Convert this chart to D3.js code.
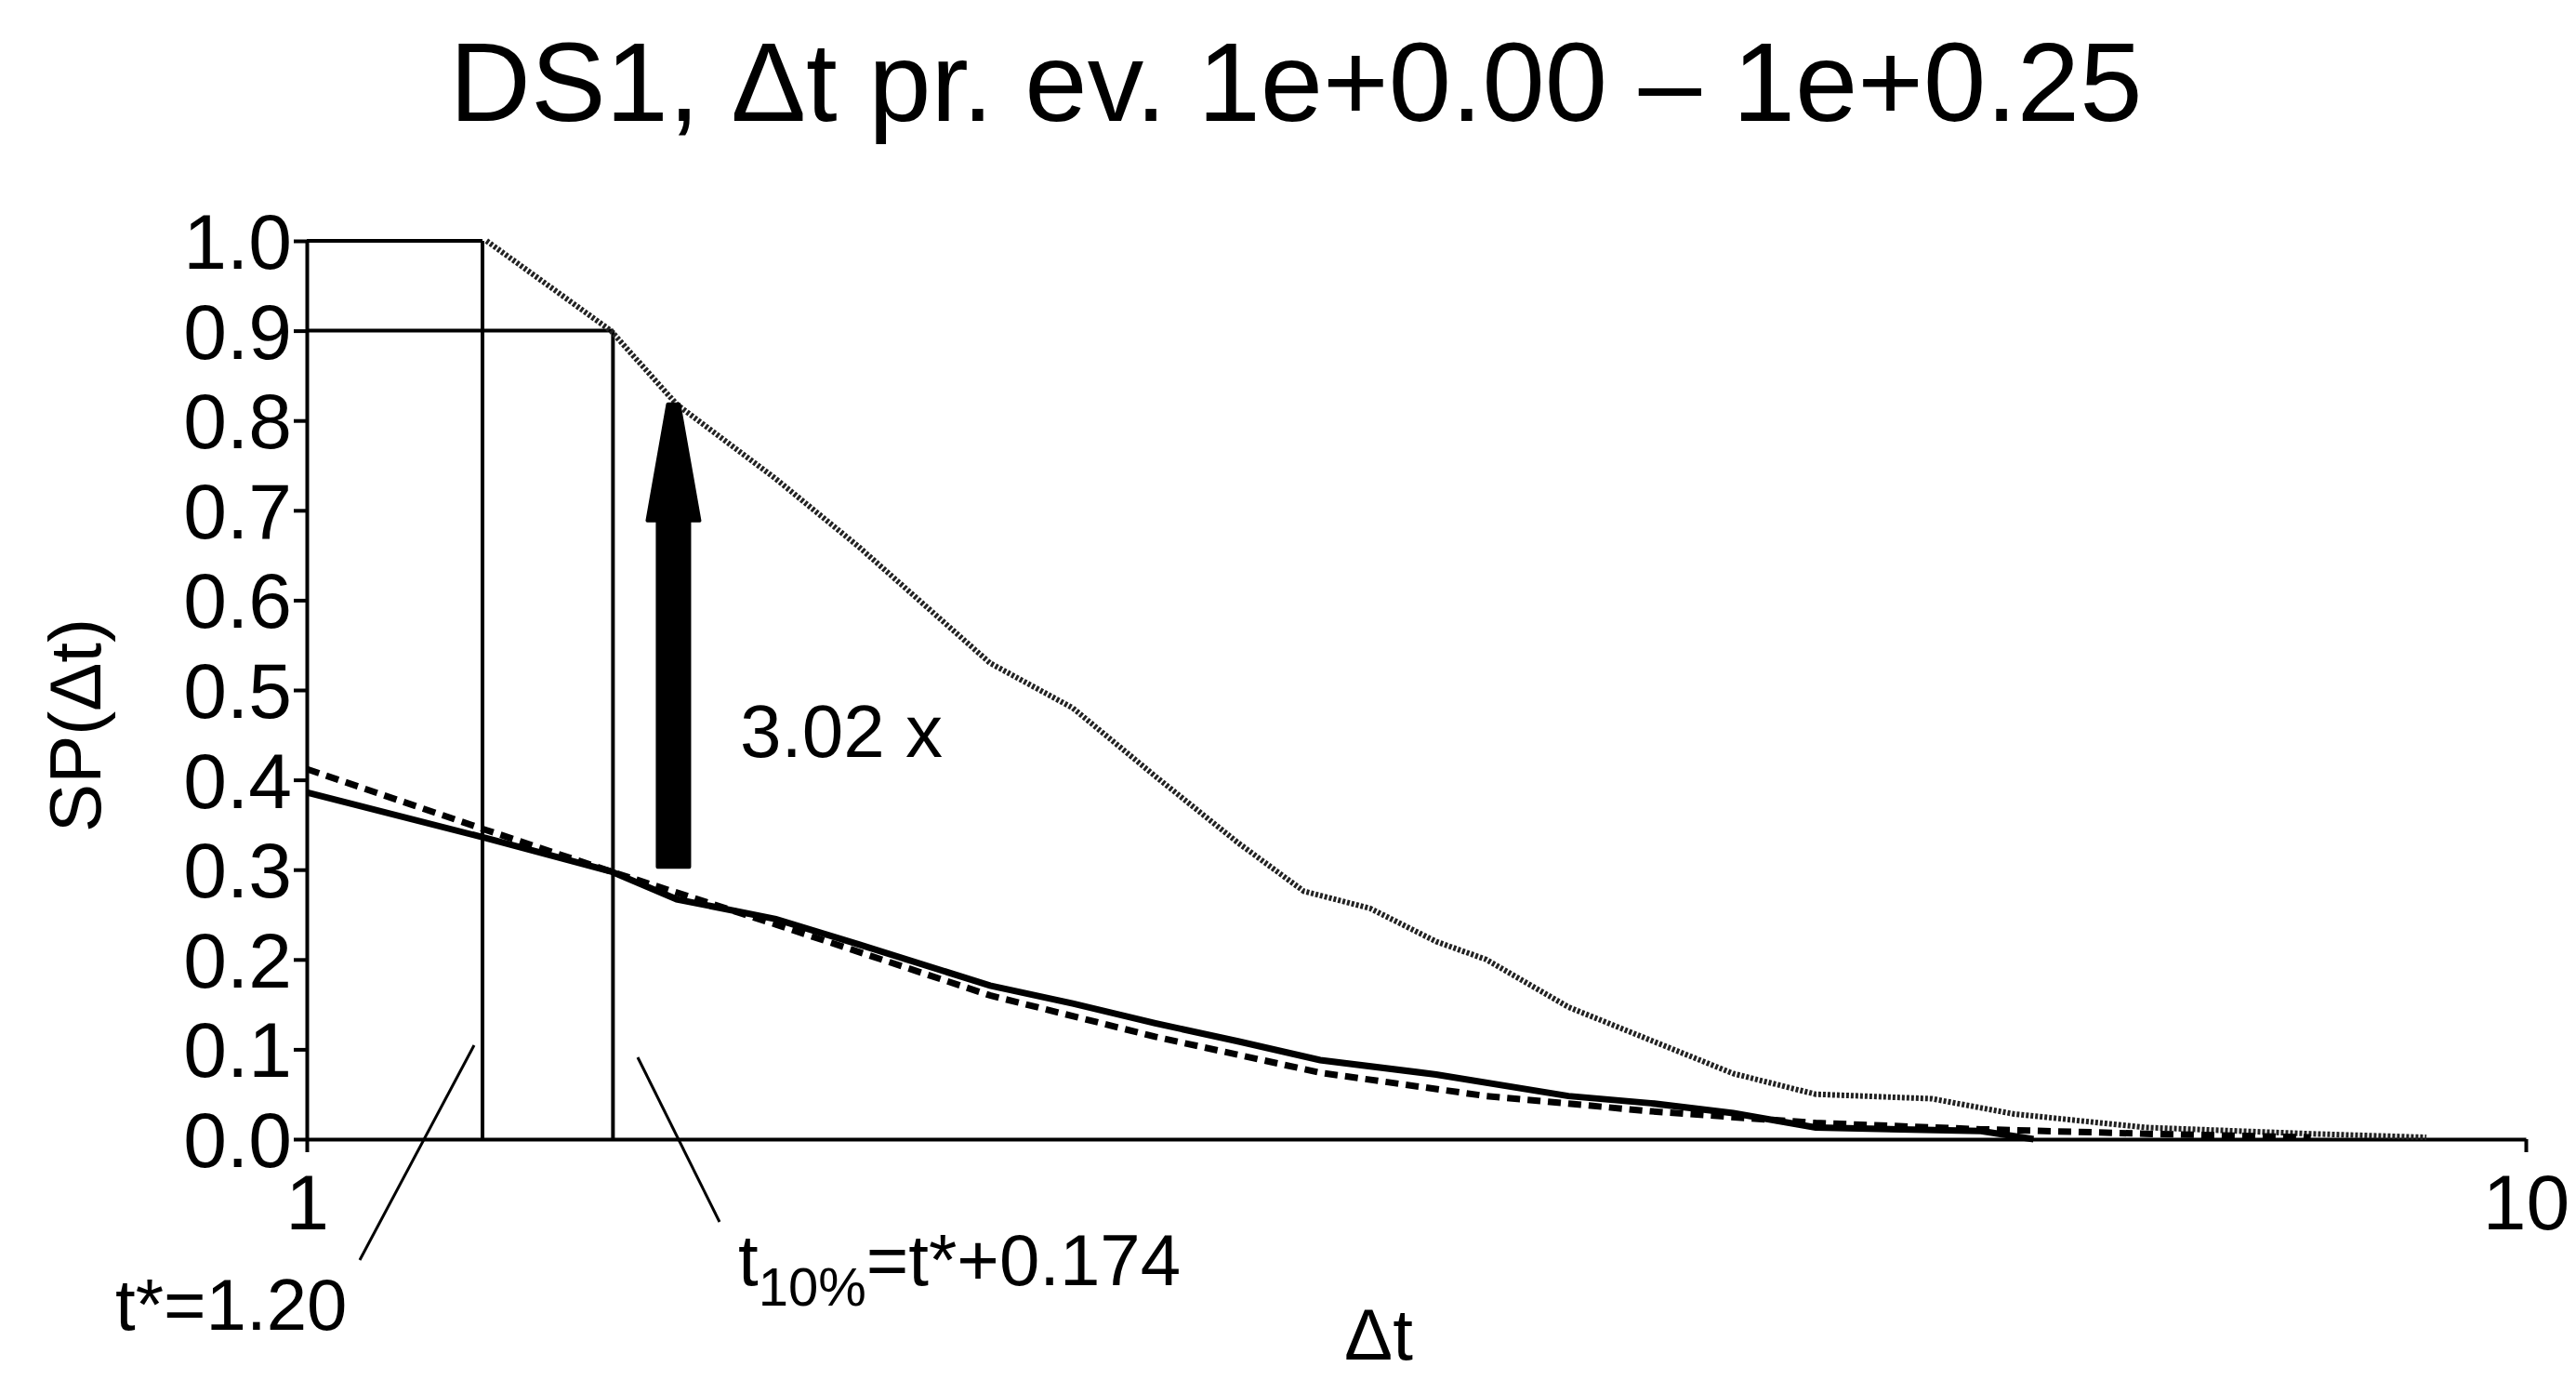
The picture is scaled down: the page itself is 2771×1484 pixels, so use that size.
<!DOCTYPE html>
<html><head><meta charset="utf-8">
<script src="https://cdn.jsdelivr.net/npm/d3@7"></script>
<style>body{margin:0;background:#fff}text{font-family:"Liberation Sans",Arial,sans-serif;fill:#000}</style>
</head><body>
<svg id="c" width="2771" height="1484"></svg>
<script>
const dottedT = [1.205,1.371,1.468,1.627,1.772,2.032,2.214,2.412,2.628,2.814,3.014,3.228,3.40,3.703,4.034,4.394,4.786,5.40,5.88,6.74,8.00,9.02];
const dottedV = [1.0,0.9,0.818,0.735,0.66,0.53,0.48,0.404,0.33,0.276,0.257,0.22,0.2,0.147,0.11,0.073,0.05,0.045,0.028,0.013,0.006,0.002];
const solidT = [1.0,1.205,1.371,1.468,1.627,1.772,2.032,2.214,2.412,2.628,2.862,3.228,3.703,4.034,4.394,4.786,5.682,6.0];
const solidV = [0.386,0.335,0.298,0.267,0.245,0.217,0.171,0.151,0.129,0.109,0.088,0.072,0.048,0.040,0.029,0.013,0.009,0.0];
const dashedT = [1.0,1.205,1.371,1.627,2.032,2.412,2.862,3.40,4.034,4.786,5.682,6.74,8.00];
const dashedV = [0.412,0.344,0.298,0.239,0.16,0.114,0.074,0.048,0.031,0.018,0.011,0.006,0.002];
const yTicks = [0,0.1,0.2,0.3,0.4,0.5,0.6,0.7,0.8,0.9,1.0];
const xTicks = [1,10];
const tStar = 1.20, t10 = 1.374, arrowT = 1.463, arrowFrom = 0.303, arrowTo = 0.818;

const svg = d3.select("#c");
const x = d3.scaleLog().domain([1,10]).range([330,2717]);
const y = d3.scaleLinear().domain([0,1]).range([1225,259]);
const sw = 4;

svg.append("text").attr("x",1394).attr("y",130).attr("text-anchor","middle").attr("font-size",121).text("DS1, Δt pr. ev. 1e+0.00 – 1e+0.25");

const ya = svg.append("g").attr("transform","translate(330,0)").call(d3.axisLeft(y).tickValues(yTicks).tickFormat(d3.format(".1f")).tickSize(14).tickSizeOuter(0));
ya.select(".domain").attr("stroke-width",sw);
ya.selectAll("line").attr("stroke-width",sw);
ya.selectAll("text").attr("font-size",84).attr("dy","0.35em").attr("x",-16).style("font-family","Liberation Sans");
const xa = svg.append("g").attr("transform","translate(0,1225)").call(d3.axisBottom(x).tickValues(xTicks).tickFormat(d3.format("d")).tickSize(14).tickSizeOuter(0));
xa.select(".domain").attr("stroke-width",sw);
xa.selectAll("line").attr("stroke-width",sw);
xa.selectAll("text").attr("font-size",84).attr("dy","0.95em").style("font-family","Liberation Sans");

const g = svg.append("g").attr("stroke","#000").attr("stroke-width",sw);
g.append("line").attr("x1",x(1)).attr("x2",x(tStar)).attr("y1",y(1)).attr("y2",y(1));
g.append("line").attr("x1",x(1)).attr("x2",x(t10)).attr("y1",y(0.9)).attr("y2",y(0.9));
g.append("line").attr("x1",x(tStar)).attr("x2",x(tStar)).attr("y1",y(0)).attr("y2",y(1));
g.append("line").attr("x1",x(t10)).attr("x2",x(t10)).attr("y1",y(0)).attr("y2",y(0.9));

const line = d3.line().x(d=>x(d[0])).y(d=>y(d[1])).curve(d3.curveLinear);
svg.append("path").datum(dottedT.map((t,i)=>[t,dottedV[i]])).attr("d",line).attr("fill","none").attr("stroke","#222").attr("stroke-width",6).attr("stroke-dasharray","3,2");
svg.append("path").datum(dashedT.map((t,i)=>[t,dashedV[i]])).attr("d",line).attr("fill","none").attr("stroke","#000").attr("stroke-width",7).attr("stroke-dasharray","14,8");
svg.append("path").datum(solidT.map((t,i)=>[t,solidV[i]])).attr("d",line).attr("fill","none").attr("stroke","#000").attr("stroke-width",7);

const ax = x(arrowT), y0 = y(arrowFrom), y1 = y(arrowTo);
svg.append("path").attr("fill","#000").attr("stroke","#000").attr("stroke-width",4).attr("stroke-linejoin","round").attr("d",
 `M${ax-17},${y0} L${ax-17},${y1+125} L${ax-28},${y1+125} L${ax-6},${y1} L${ax+6},${y1} L${ax+28},${y1+125} L${ax+17},${y1+125} L${ax+17},${y0} Z`);
svg.append("text").attr("x",796).attr("y",814).attr("font-size",80).text("3.02 x");

g.append("line").attr("x1",510).attr("y1",1124).attr("x2",387).attr("y2",1355).attr("stroke-width",3);
g.append("line").attr("x1",686).attr("y1",1137).attr("x2",774).attr("y2",1314).attr("stroke-width",3);
svg.append("text").attr("x",124).attr("y",1430).attr("font-size",78).text("t*=1.20");
const tl = svg.append("text").attr("x",794).attr("y",1382).attr("font-size",78);
tl.append("tspan").text("t");
tl.append("tspan").attr("font-size",58).attr("dy",22).text("10%");
tl.append("tspan").attr("dy",-22).text("=t*+0.174");

svg.append("text").attr("x",1483).attr("y",1462).attr("text-anchor","middle").attr("font-size",78).text("Δt");
svg.append("text").attr("transform","translate(108,780) rotate(-90)").attr("text-anchor","middle").attr("font-size",78).text("SP(Δt)");
</script></body></html>
